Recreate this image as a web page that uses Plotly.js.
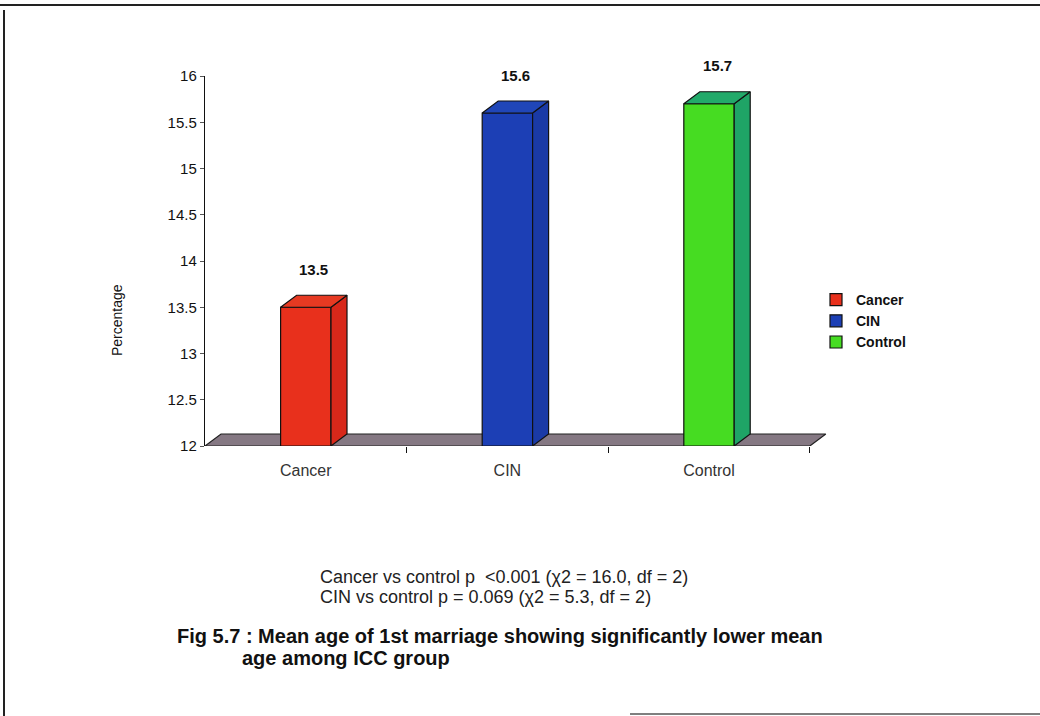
<!DOCTYPE html>
<html>
<head>
<meta charset="utf-8">
<script src="https://cdn.plot.ly/plotly-3.0.1.min.js"></script>
<style>html,body{margin:0;padding:0;background:#fff;}#chart{width:1040px;height:716px;}</style>
</head>
<body>
<div id="chart"></div>
<script>
// ---- data ----
const categories = ["Cancer", "CIN", "Control"];
const meanAge = [13.5, 15.6, 15.7];
const valueLabels = ["13.5", "15.6", "15.7"];
const yTickVals = [12, 12.5, 13, 13.5, 14, 14.5, 15, 15.5, 16];
const yTickText = ["12", "12.5", "13", "13.5", "14", "14.5", "15", "15.5", "16"];
const statLines = [
  "Cancer vs control p  <0.001 (\u03c72 = 16.0, df = 2)",
  "CIN vs control p = 0.069 (\u03c72 = 5.3, df = 2)"
];
const captionLines = [
  "Fig 5.7 : Mean age of 1st marriage showing significantly lower mean",
  "age among ICC group"
];

// ---- styling ----
const frontColors = ["#e8301c", "#1c3fb5", "#46dc22"];
const sideColors = ["#d8281a", "#1a3aa6", "#1fa466"];
const topColors = ["#e63a22", "#2046b8", "#22aa6a"];
const floorColor = "#857883";
const W = 1040, H = 716;
const L = 205, T = 76, B = 270, R = 206;
const xRange = [0.5, 3.62];
const yRange = [12, 16];
const barW = 0.25;
const pxPerX = (W - L - R) / (xRange[1] - xRange[0]);
const pxPerY = (H - T - B) / (yRange[1] - yRange[0]);
const dx = 16 / pxPerX;   // depth offset in axis units
const dy = 12 / pxPerY;
const base = yRange[0];
const fontFam = "Arial, 'Liberation Sans', sans-serif";

const traces = [];
// floor (main subplot, drawn beneath)
traces.push({
  type: "scatter", mode: "lines", xaxis: "x", yaxis: "y",
  x: [xRange[0], xRange[0] + dx, 3.5 + dx, 3.5, xRange[0]],
  y: [base, base + dy, base + dy, base, base],
  fill: "toself", fillcolor: floorColor,
  line: {color: "#222", width: 1.2},
  showlegend: false, hoverinfo: "skip"
});
// front faces as bars (overlay subplot)
categories.forEach((c, i) => {
  traces.push({
    type: "bar", xaxis: "x2", yaxis: "y2",
    x: [i + 1], y: [meanAge[i] - base], base: base,
    width: barW, name: c,
    marker: {color: frontColors[i], line: {color: "#111", width: 1.2}},
    showlegend: true, hoverinfo: "skip"
  });
});
// side and top faces
categories.forEach((c, i) => {
  const xc = i + 1, v = meanAge[i];
  const xr = xc + barW / 2, xl = xc - barW / 2;
  traces.push({
    type: "scatter", mode: "lines", xaxis: "x2", yaxis: "y2",
    x: [xr, xr + dx, xr + dx, xr, xr],
    y: [base, base + dy, v + dy, v, base],
    fill: "toself", fillcolor: sideColors[i],
    line: {color: "#111", width: 1.2}, showlegend: false, hoverinfo: "skip"
  });
  traces.push({
    type: "scatter", mode: "lines", xaxis: "x2", yaxis: "y2",
    x: [xl, xl + dx, xr + dx, xr, xl],
    y: [v, v + dy, v + dy, v, v],
    fill: "toself", fillcolor: topColors[i],
    line: {color: "#111", width: 1.2}, showlegend: false, hoverinfo: "skip"
  });
});

function px2paperX(p) { return (p - L) / (W - L - R); }
function px2paperY(p) { return (H - B - p) / (H - T - B); }

const annotations = [];
categories.forEach((c, i) => {
  annotations.push({
    xref: "x", yref: "y", x: i + 1 + dx / 2, y: meanAge[i] + dy,
    yshift: 26, text: "<b>" + valueLabels[i] + "</b>", showarrow: false,
    font: {family: fontFam, size: 15, color: "#111"}
  });
});
annotations.push({
  xref: "paper", yref: "paper", x: px2paperX(107), y: px2paperY(320),
  text: "Percentage", textangle: -90, showarrow: false,
  font: {family: fontFam, size: 14, color: "#111"}
});
statLines.forEach((t, k) => {
  annotations.push({
    xref: "paper", yref: "paper", x: px2paperX(318), y: px2paperY(577 + k * 20),
    xanchor: "left", yanchor: "middle", text: t, showarrow: false,
    font: {family: fontFam, size: 18, color: "#222"}
  });
});
annotations.push({
  xref: "paper", yref: "paper", x: px2paperX(175), y: px2paperY(636),
  xanchor: "left", yanchor: "middle", text: "<b>" + captionLines[0] + "</b>", showarrow: false,
  font: {family: fontFam, size: 20, color: "#111"}
});
annotations.push({
  xref: "paper", yref: "paper", x: px2paperX(240), y: px2paperY(658),
  xanchor: "left", yanchor: "middle", text: "<b>" + captionLines[1] + "</b>", showarrow: false,
  font: {family: fontFam, size: 20, color: "#111"}
});

const shapes = [
  {type: "line", xref: "paper", yref: "paper", x0: px2paperX(0), x1: px2paperX(1040), y0: px2paperY(5), y1: px2paperY(5), line: {color: "#222", width: 2}},
  {type: "line", xref: "paper", yref: "paper", x0: px2paperX(4), x1: px2paperX(4), y0: px2paperY(10), y1: px2paperY(716), line: {color: "#222", width: 2}},
  {type: "line", xref: "paper", yref: "paper", x0: px2paperX(630), x1: px2paperX(1040), y0: px2paperY(714), y1: px2paperY(714), line: {color: "#555", width: 1.5}}
];

const layout = {
  width: W, height: H,
  margin: {l: L, r: R, t: T, b: B, pad: 0},
  paper_bgcolor: "#ffffff", plot_bgcolor: "rgba(0,0,0,0)",
  showlegend: true,
  legend: {
    x: px2paperX(816), y: px2paperY(284), xanchor: "left", yanchor: "top",
    font: {family: fontFam, size: 14, color: "#111", weight: "bold"},
    bgcolor: "rgba(0,0,0,0)", tracegroupgap: 0, itemwidth: 30
  },
  xaxis: {
    range: xRange, showgrid: false, zeroline: false, showline: false,
    tickmode: "array", tickvals: [1, 2, 3], ticktext: categories, ticks: "",
    tickfont: {family: fontFam, size: 16, color: "#333"},
    ticklabelstandoff: 13,
    minor: {tickmode: "array", tickvals: [1.5, 2.5, 3.5], ticks: "outside", ticklen: 6, tickcolor: "#111", tickwidth: 1.2, showgrid: false},
    fixedrange: true
  },
  yaxis: {
    range: yRange, showgrid: false, zeroline: false, showline: true,
    linecolor: "#111", linewidth: 1.2,
    tickmode: "array", tickvals: yTickVals, ticktext: yTickText,
    ticks: "outside", ticklen: 4, tickcolor: "#555",
    tickfont: {family: fontFam, size: 15, color: "#111"},
    fixedrange: true
  },
  xaxis2: {overlaying: "x", matches: "x", visible: false, range: xRange},
  yaxis2: {overlaying: "y", matches: "y", visible: false, range: yRange},
  annotations: annotations,
  shapes: shapes
};

Plotly.newPlot("chart", traces, layout, {displayModeBar: false, staticPlot: true});
</script>
</body>
</html>
